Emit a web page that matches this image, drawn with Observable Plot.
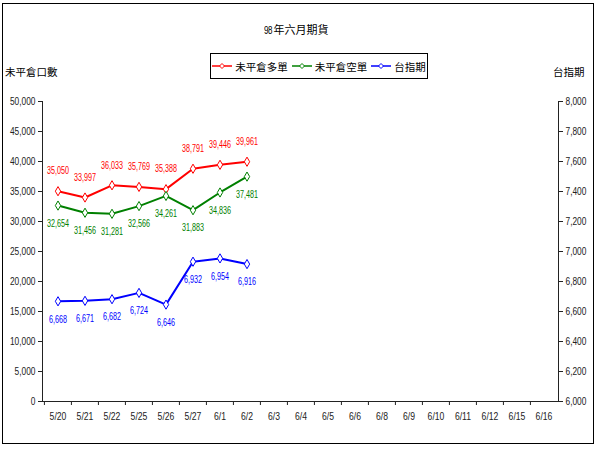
<!DOCTYPE html>
<html>
<head>
<meta charset="utf-8">
<script src="https://cdn.jsdelivr.net/npm/d3@7"></script>
<script src="https://cdn.jsdelivr.net/npm/@observablehq/plot@0.6"></script>
<style>
  html, body { margin: 0; padding: 0; background: #fff; }
  #wrap { position: relative; width: 600px; height: 450px; overflow: hidden; font-family: "Liberation Sans", sans-serif; }
  #header { position: relative; width: 600px; height: 90px; font-family: "Noto Sans CJK TC", sans-serif; color: #000; }
  #title { position: absolute; left: 0; width: 592px; top: 21px; text-align: center; font-size: 11px; }
  #title .num { font-family: "Liberation Sans", sans-serif; font-size: 10px; display: inline-block; transform: scaleX(0.8); letter-spacing: -0.5px; }
  #legend { position: absolute; left: 210px; top: 53px; width: 218px; height: 26px; box-sizing: border-box; border: 1px solid #000; display: flex; align-items: center; justify-content: center; gap: 4px; font-size: 10.5px; }
  .item { display: flex; align-items: center; }
  .item svg { margin-right: 3px; }
  #ltitle { position: absolute; left: 5px; top: 64px; font-size: 10.5px; }
  #rtitle { position: absolute; left: 553px; top: 64px; font-size: 10.5px; }
  #frame { position: absolute; left: 2px; top: 3px; width: 592px; height: 441px; box-sizing: border-box; border: 1px solid #000; pointer-events: none; }
  #plot svg { display: block; }
</style>
</head>
<body>
<div id="wrap">
  <div id="header">
    <div id="title"></div>
    <div id="legend"></div>
    <div id="ltitle"></div>
    <div id="rtitle"></div>
  </div>
  <div id="plot"></div>
  <div id="frame"></div>
</div>
<script>
const chartTitle = "98年六月期貨";
const leftAxisTitle = "未平倉口數";
const rightAxisTitle = "台指期";
const categories = ["5/20","5/21","5/22","5/25","5/26","5/27","6/1","6/2","6/3","6/4","6/5","6/6","6/8","6/9","6/10","6/11","6/12","6/15","6/16"];
const seriesNames = ["未平倉多單","未平倉空單","台指期"];
const seriesColors = ["#ff0000","#008000","#0000ff"];
const longOI  = [35050,33997,36033,35769,35388,38791,39446,39961];
const shortOI = [32654,31456,31281,32566,34261,31883,34836,37481];
const taiex   = [6668,6671,6682,6724,6646,6932,6954,6916];
const leftTicks  = [0,5000,10000,15000,20000,25000,30000,35000,40000,45000,50000];
const rightTicks = [6000,6200,6400,6600,6800,7000,7200,7400,7600,7800,8000];

// header
document.getElementById("title").innerHTML = chartTitle.replace(/^(\d+)/, '<span class="num">$1</span>');
document.getElementById("ltitle").textContent = leftAxisTitle;
document.getElementById("rtitle").textContent = rightAxisTitle;
const legend = document.getElementById("legend");
seriesNames.forEach((name, i) => {
  const c = seriesColors[i];
  const it = document.createElement("div");
  it.className = "item";
  it.innerHTML = `<svg width="20" height="10"><line x1="0" y1="5" x2="20" y2="5" stroke="${c}" stroke-width="1.5"/><path d="M10,2.5L12.5,5L10,7.5L7.5,5Z" fill="#fff" stroke="${c}" stroke-width="1"/></svg><span>${name}</span>`;
  legend.appendChild(it);
});

// map secondary axis onto primary scale
const lMin = d3.min(leftTicks), lMax = d3.max(leftTicks);
const rMin = d3.min(rightTicks), rMax = d3.max(rightTicks);
const toPrimary = v => lMin + (v - rMin) / (rMax - rMin) * (lMax - lMin);
const toSecondary = v => rMin + (v - lMin) / (lMax - lMin) * (rMax - rMin);

const raw = [longOI, shortOI, taiex];
const data = [];
raw.forEach((arr, s) => arr.forEach((v, i) => data.push({
  series: seriesNames[s], cat: categories[i], value: v,
  y: s === 2 ? toPrimary(v) : v
})));

const W = 600, H = 354, mL = 42, mR = 42, mT = 11, mB = 43;
const bw = (W - mL - mR) / categories.length;
const fmt = d3.format(",");

const marks = [
  Plot.axisY({anchor: "left", ticks: leftTicks, tickFormat: fmt, tickSize: 4, tickPadding: 3, fontSize: 11, label: null, color: "#222"}),
  Plot.axisY({anchor: "right", ticks: rightTicks.map(toPrimary), tickFormat: d => fmt(Math.round(toSecondary(d))), tickSize: 4, tickPadding: 3, fontSize: 11, label: null, color: "#222"}),
  Plot.axisX({tickSize: 4, dx: -bw / 2, tickFormat: () => "", label: null, color: "#222"}),
  Plot.axisX({tickSize: 0, tickPadding: 11, fontSize: 10.5, label: null, color: "#222"}),
  Plot.frame({anchor: "left", stroke: "#222"}),
  Plot.frame({anchor: "right", stroke: "#222"}),
  Plot.frame({anchor: "bottom", stroke: "#222"})
];
seriesNames.forEach((name, s) => {
  const d = data.filter(r => r.series === name);
  const c = seriesColors[s];
  marks.push(Plot.lineY(d, {x: "cat", y: "y", stroke: c, strokeWidth: 2}));
  marks.push(Plot.dot(d, {x: "cat", y: "y", symbol: "diamond", r: 2.8, fill: "#fff", stroke: c, strokeWidth: 1}));
  marks.push(Plot.text(d, {x: "cat", y: "y", text: r => fmt(r.value), dy: s === 0 ? -20 : 18, fill: c, fontSize: 10}));
});

const chart = Plot.plot({
  width: W, height: H,
  marginLeft: mL, marginRight: mR, marginTop: mT, marginBottom: mB,
  style: {fontFamily: '"Liberation Sans", sans-serif', background: "transparent", overflow: "visible"},
  x: {type: "band", domain: categories, padding: 0, axis: null},
  y: {domain: [lMin, lMax], axis: null},
  marks
});
document.getElementById("plot").appendChild(chart);

// condense the numeric texts horizontally (the reference uses a narrow face)
chart.querySelectorAll("g[aria-label]").forEach(g => {
  const lab = g.getAttribute("aria-label");
  let k = null;
  if (lab === "text") k = 0.72;
  else if (/y-axis tick label/.test(lab)) k = 0.76;
  else if (/x-axis tick label/.test(lab)) k = 0.82;
  if (k == null) return;
  g.querySelectorAll("text").forEach(t => {
    const tr = t.getAttribute("transform");
    if (tr) t.setAttribute("transform", tr + ` scale(${k},1)`);
  });
});
</script>
</body>
</html>
